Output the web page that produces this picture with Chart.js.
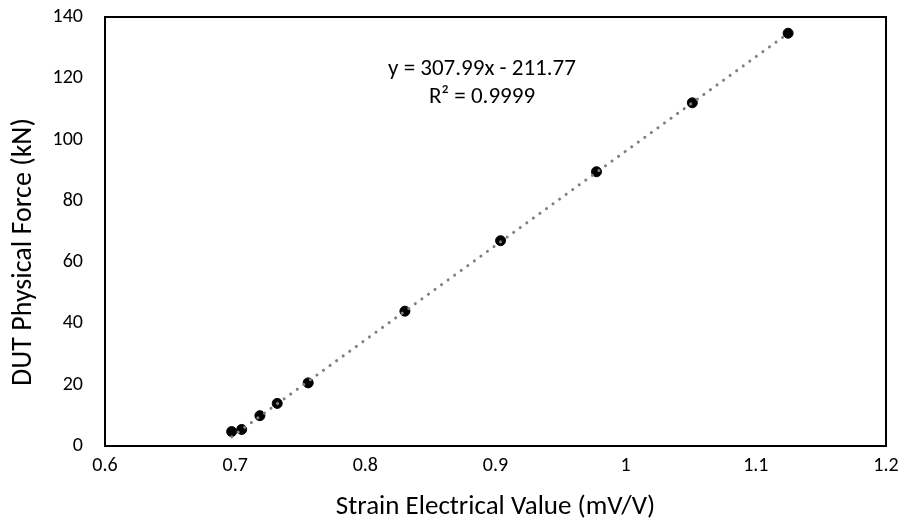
<!DOCTYPE html>
<html>
<head>
<meta charset="utf-8">
<script src="https://cdn.jsdelivr.net/npm/chart.js@4/dist/chart.umd.min.js"></script>
<style>
  html, body { margin: 0; padding: 0; background: #fff; }
  #wrap { width: 905px; height: 529px; }
</style>
</head>
<body>
<div id="wrap"><canvas id="myChart" width="905" height="529"></canvas></div>
<script>
// data
var strain = [0.6973, 0.7050, 0.7190, 0.7323, 0.7561, 0.8304, 0.9039, 0.9776, 1.0512, 1.1248];
var force = [4.7, 5.4, 9.9, 13.9, 20.6, 44.0, 67.0, 89.5, 112.0, 134.7];
var xTicks = [0.6, 0.7, 0.8, 0.9, 1, 1.1, 1.2];
var yTicks = [0, 20, 40, 60, 80, 100, 120, 140];
var slope = 307.99, intercept = -211.77;
var eqLines = ['y = 307.99x - 211.77', 'R\u00b2 = 0.9999'];
var xTitle = 'Strain Electrical Value (mV/V)';
var yTitle = 'DUT Physical Force (kN)';

var FONT = 'Calibri, Carlito, Lato, sans-serif';

var points = strain.map(function(x, i) { return {x: x, y: force[i]}; });
var xMin = Math.min.apply(null, strain), xMax = Math.max.apply(null, strain);
var trend = [xMin, xMax].map(function(x) { return {x: x, y: slope * x + intercept}; });

// frame round the plot area, y title, trendline label
var extras = {
  id: 'extras',
  afterDraw: function(chart) {
    var a = chart.chartArea, c = chart.ctx;
    c.save();
    c.strokeStyle = '#000';
    c.lineWidth = 2;
    c.strokeRect(a.left, a.top, a.right - a.left, a.bottom - a.top);

    c.fillStyle = '#000';
    c.textAlign = 'center';
    c.textBaseline = 'middle';
    c.font = '23px ' + FONT;
    var px = chart.scales.x.getPixelForValue(0.8896);
    c.fillText(eqLines[0], px, chart.scales.y.getPixelForValue(123));
    c.fillText(eqLines[1], px, chart.scales.y.getPixelForValue(113.9));

    c.font = '28px ' + FONT;
    c.translate(24, 252);
    c.rotate(-Math.PI / 2);
    c.fillText(yTitle, 0, 0);
    c.restore();
  }
};

var ctx = document.getElementById('myChart').getContext('2d');
var chart = new Chart(ctx, {
  type: 'scatter',
  data: {
    datasets: [{
      label: 'Trend',
      data: trend,
      showLine: true,
      borderColor: '#808080',
      borderWidth: 3,
      borderDash: [0.1, 8],
      borderCapStyle: 'round',
      pointRadius: 0,
      order: 0
    }, {
      label: 'Data',
      data: points,
      backgroundColor: '#000',
      borderColor: '#000',
      pointRadius: 5,
      pointBorderWidth: 1,
      order: 1
    }]
  },
  options: {
    responsive: false,
    animation: false,
    layout: { padding: { left: 0, right: 19, top: 17, bottom: 0 } },
    plugins: { legend: { display: false }, tooltip: { enabled: false } },
    scales: {
      x: {
        type: 'linear',
        min: 0.6, max: 1.2,
        afterBuildTicks: function(s) { s.ticks = xTicks.map(function(v) { return {value: v}; }); },
        afterFit: function(s) { s.height = 83; s.paddingLeft = 0; s.paddingRight = 0; },
        grid: { display: false, drawTicks: false },
        border: { display: false },
        ticks: { color: '#000', padding: 8, font: { family: FONT, size: 20 },
                 callback: function(v) { return String(v); } },
        title: { display: true, text: xTitle, color: '#000',
                 font: { family: FONT, size: 27 }, padding: { top: 4, bottom: 6 } }
      },
      y: {
        min: 0, max: 140,
        afterBuildTicks: function(s) { s.ticks = yTicks.map(function(v) { return {value: v}; }); },
        afterFit: function(s) { s.width = 105; s.paddingTop = 0; s.paddingBottom = 0; },
        grid: { display: false, drawTicks: false },
        border: { display: false },
        ticks: { color: '#000', padding: 22, font: { family: FONT, size: 20 } },
        title: { display: false }
      }
    }
  },
  plugins: [extras]
});
</script>
</body>
</html>
